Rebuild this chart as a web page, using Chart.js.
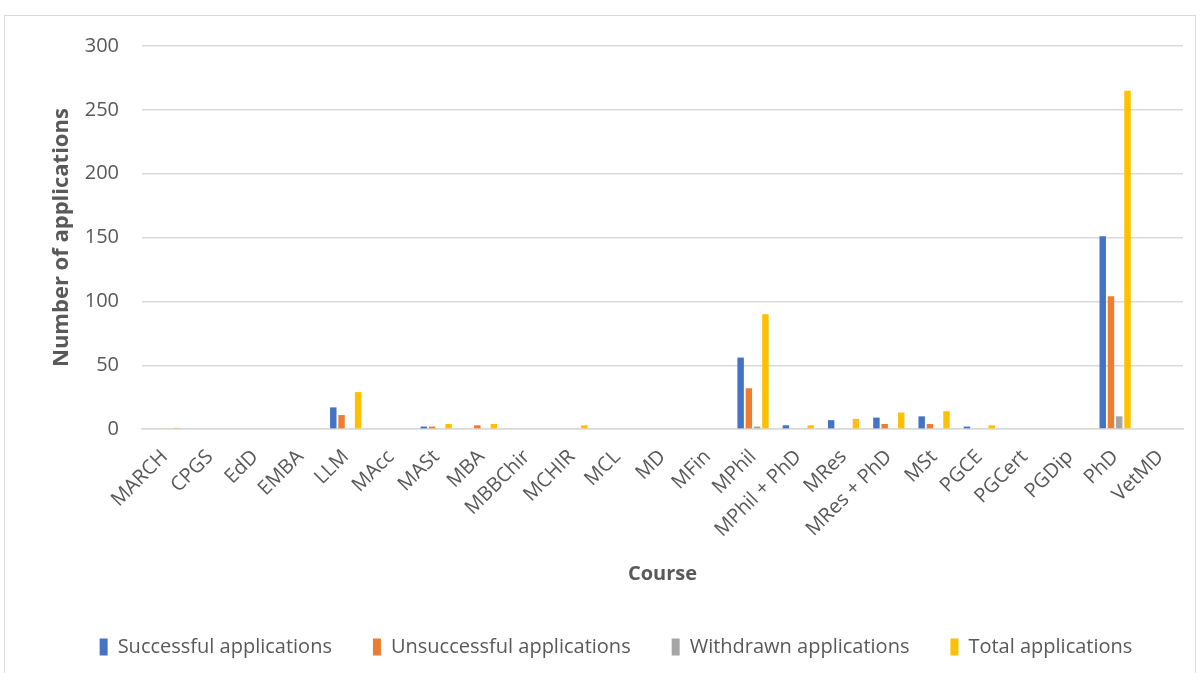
<!DOCTYPE html>
<html>
<head>
<meta charset="utf-8">
<script src="https://cdn.jsdelivr.net/npm/chart.js@4.4.1/dist/chart.umd.min.js"></script>
<style>
  html, body { margin: 0; padding: 0; background: #fff; }
  #frame { position: absolute; left: 4px; top: 15px; width: 1192px; height: 670px; border: 1px solid #d9d9d9; box-sizing: border-box; }
  #wrap { position: absolute; left: 0; top: 0; width: 1200px; height: 673px; }
</style>
</head>
<body>
<div id="frame"></div>
<div id="wrap"><canvas id="chart"></canvas></div>
<script>
// Applications per course
const courses = ['MARCH', 'CPGS', 'EdD', 'EMBA', 'LLM', 'MAcc', 'MASt', 'MBA', 'MBBChir', 'MCHIR',
  'MCL', 'MD', 'MFin', 'MPhil', 'MPhil + PhD', 'MRes', 'MRes + PhD', 'MSt', 'PGCE', 'PGCert',
  'PGDip', 'PhD', 'VetMD'];

const successful   = [0, 0, 0, 0, 17, 0, 2, 0, 0, 0, 0, 0, 0, 56, 3, 7, 9, 10, 2, 0, 0, 151, 0];
const unsuccessful = [0, 0, 0, 0, 11, 0, 2, 3, 0, 0, 0, 0, 0, 32, 0, 0, 4, 4, 0, 0, 0, 104, 0];
const withdrawn    = [0, 0, 0, 0, 0, 0, 0, 0, 0, 0, 0, 0, 0, 2, 0, 0, 0, 0, 0, 0, 0, 10, 0];
const total        = [1, 0, 0, 0, 29, 0, 4, 4, 0, 3, 0, 0, 0, 90, 3, 8, 13, 14, 3, 0, 0, 265, 0];

const yTicks = [0, 50, 100, 150, 200, 250, 300];

const FONT = 'Open Sans';
const TEXT = '#595959';

function series(label, data, color) {
  return {
    label, data,
    backgroundColor: color,
    borderWidth: 0,
    categoryPercentage: 0.73,
    barPercentage: 0.78
  };
}

new Chart(document.getElementById('chart'), {
  type: 'bar',
  data: {
    labels: courses,
    datasets: [
      series('Successful applications', successful, '#4472C4'),
      series('Unsuccessful applications', unsuccessful, '#ED7D31'),
      series('Withdrawn applications', withdrawn, '#A5A5A5'),
      series('Total applications', total, '#FFC000')
    ]
  },
  options: {
    responsive: true,
    maintainAspectRatio: false,
    animation: false,
    layout: { padding: { left: 49, right: 17, top: 46, bottom: 6 } },
    plugins: {
      legend: {
        position: 'bottom',
        labels: {
          color: TEXT,
          font: { family: FONT, size: 20 },
          boxWidth: 8, boxHeight: 17,
          padding: 41
        }
      },
      tooltip: { enabled: false }
    },
    scales: {
      x: {
        // rotated labels may hang past the left edge, as in the original
        afterFit: axis => { axis.paddingLeft = 0; },
        grid: { display: false },
        border: { color: '#d9d9d9', width: 1.5 },
        ticks: {
          color: TEXT,
          font: { family: FONT, size: 20 },
          minRotation: 45, maxRotation: 45,
          autoSkip: false,
          padding: 8
        },
        title: {
          display: true, text: 'Course', color: TEXT,
          font: { family: FONT, size: 20, weight: 'bold' },
          padding: { top: 12, bottom: 10 }
        }
      },
      y: {
        min: 0, max: 300,
        afterBuildTicks: axis => { axis.ticks = yTicks.map(v => ({ value: v })); },
        afterFit: axis => { axis.width = 93; },
        grid: { color: '#d9d9d9', lineWidth: 1.5, drawTicks: false },
        border: { display: false },
        ticks: {
          color: TEXT,
          font: { family: FONT, size: 20 },
          padding: 23
        },
        title: {
          display: true, text: 'Number of applications', color: TEXT,
          font: { family: FONT, size: 22, weight: 'bold' },
          padding: { top: 0, bottom: 10 }
        }
      }
    }
  }
});
</script>
</body>
</html>
